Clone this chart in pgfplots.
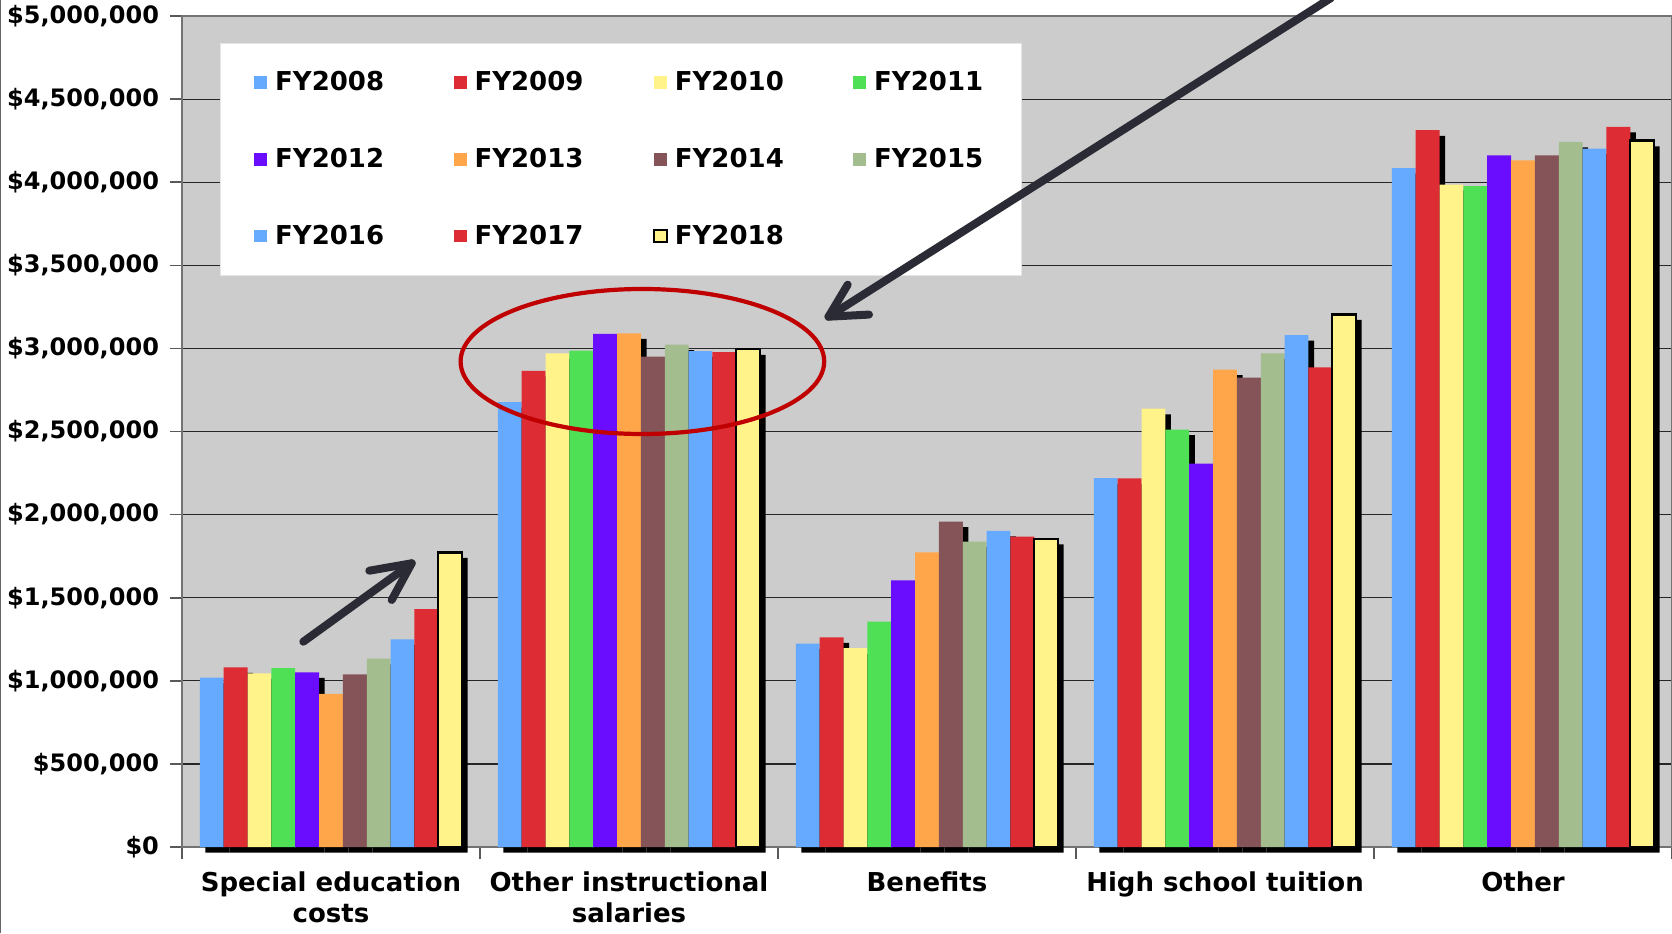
\documentclass[border=0pt]{standalone}
\usepackage{pgfplots}
\usepackage{pgfplotstable}
\pgfplotsset{compat=1.18}
\usepackage{fontspec}
\setmainfont{DejaVu Sans}
\definecolor{cBlue}{RGB}{102,170,255}
\definecolor{cRed}{RGB}{221,44,51}
\definecolor{cYel}{RGB}{255,243,138}
\definecolor{cGrn}{RGB}{80,224,85}
\definecolor{cVio}{RGB}{106,13,255}
\definecolor{cOra}{RGB}{255,166,74}
\definecolor{cBrn}{RGB}{132,84,88}
\definecolor{cSag}{RGB}{163,189,143}
\definecolor{arrowc}{RGB}{43,43,54}
\definecolor{ellc}{RGB}{192,0,0}
\pgfplotstableread{
cat y08 y09 y10 y11 y12 y13 y14 y15 y16 y17 y18
0 1019000 1081000 1045000 1077000 1051000 922000 1039000 1133000 1250000 1432000 1773000
1 2677000 2865000 2970000 2987000 3088000 3091000 2951000 3023000 2983000 2977000 2995000
2 1224000 1262000 1196000 1356000 1605000 1773000 1958000 1838000 1902000 1868000 1855000
3 2220000 2218000 2637000 2512000 2306000 2873000 2824000 2970000 3080000 2886000 3205000
4 4085000 4313000 3985000 3977000 4161000 4132000 4161000 4243000 4202000 4333000 4250000
}\data
\tikzset{barshadow/.style={preaction={fill=black, draw=none, transform canvas={xshift=2.8pt,yshift=-2.8pt}}}}
\begin{document}
\begin{tikzpicture}[font=\bfseries]
\begin{axis}[
  at={(0,0)}, anchor=south west,
  scale only axis, width=745pt, height=415.5pt,
  xmin=-0.5, xmax=4.5, ymin=0, ymax=5000000,
  ybar, bar width=0.08,
  clip=false,
  axis background/.style={fill=black!20},
  axis line style={draw=black!55, line width=0.9pt},
  ymajorgrids, grid style={black!85, line width=0.6pt},
  ytick={0,500000,1000000,1500000,2000000,2500000,3000000,3500000,4000000,4500000,5000000},
  yticklabels={{\$0},{\$500,000},{\$1,000,000},{\$1,500,000},{\$2,000,000},{\$2,500,000},{\$3,000,000},{\$3,500,000},{\$4,000,000},{\$4,500,000},{\$5,000,000}},
  scaled y ticks=false,
  xtick pos=bottom, ytick pos=left,
  tick align=outside, major tick length=6pt,
  tick style={black!65, line width=0.8pt},
  xtick={-0.5,0.5,1.5,2.5,3.5,4.5}, xticklabels={,,,,,},
  extra x ticks={0,1,2,3,4},
  extra x tick labels={{Special education\\costs},{Other instructional\\salaries},{Benefits},{High school tuition},{Other}},
  extra x tick style={major tick length=0pt},
  xticklabel style={align=center, font=\bfseries\fontsize{13}{15.5}\selectfont, yshift=-9pt},
  yticklabel style={font=\bfseries\fontsize{12}{14}\selectfont, xshift=-2pt},
  legend columns=4, legend cell align=left,
  legend style={at={(0.0255,0.9675)}, anchor=north west, fill=white, draw=black!10,
    inner xsep=17pt, inner ysep=12pt, row sep=23.2pt,
    font=\bfseries\fontsize{13}{15.5}\selectfont,
    /tikz/every even column/.append style={column sep=32.8pt}},
  sq/.style={legend image code/.code={\path[draw=none,fill=none] (0pt,0pt) -- (8.4pt,0pt);\path[##1, draw=none] (0pt,-3.2pt) rectangle (6.4pt,3.2pt);}},
  sqb/.style={legend image code/.code={\path[draw=none,fill=none] (0pt,0pt) -- (8.4pt,0pt);\path[##1] (0pt,-3.2pt) rectangle (6.4pt,3.2pt);}},
]
\addlegendimage{sq, fill=cBlue}\addlegendentry{FY2008}
\addlegendimage{sq, fill=cRed}\addlegendentry{FY2009}
\addlegendimage{sq, fill=cYel}\addlegendentry{FY2010}
\addlegendimage{sq, fill=cGrn}\addlegendentry{FY2011}
\addlegendimage{sq, fill=cVio}\addlegendentry{FY2012}
\addlegendimage{sq, fill=cOra}\addlegendentry{FY2013}
\addlegendimage{sq, fill=cBrn}\addlegendentry{FY2014}
\addlegendimage{sq, fill=cSag}\addlegendentry{FY2015}
\addlegendimage{sq, fill=cBlue}\addlegendentry{FY2016}
\addlegendimage{sq, fill=cRed}\addlegendentry{FY2017}
\addlegendimage{sqb, fill=cYel, draw=black, line width=1pt}\addlegendentry{FY2018}

\addplot[forget plot, barshadow, fill=cBlue, draw=none, bar shift=-0.40] table[x expr=\coordindex, y=y08] {\data};
\addplot[forget plot, barshadow, fill=cRed, draw=none, bar shift=-0.32] table[x expr=\coordindex, y=y09] {\data};
\addplot[forget plot, barshadow, fill=cYel, draw=none, bar shift=-0.24] table[x expr=\coordindex, y=y10] {\data};
\addplot[forget plot, barshadow, fill=cGrn, draw=none, bar shift=-0.16] table[x expr=\coordindex, y=y11] {\data};
\addplot[forget plot, barshadow, fill=cVio, draw=none, bar shift=-0.08] table[x expr=\coordindex, y=y12] {\data};
\addplot[forget plot, barshadow, fill=cOra, draw=none, bar shift=0] table[x expr=\coordindex, y=y13] {\data};
\addplot[forget plot, barshadow, fill=cBrn, draw=none, bar shift=0.08] table[x expr=\coordindex, y=y14] {\data};
\addplot[forget plot, barshadow, fill=cSag, draw=none, bar shift=0.16] table[x expr=\coordindex, y=y15] {\data};
\addplot[forget plot, barshadow, fill=cBlue, draw=none, bar shift=0.24] table[x expr=\coordindex, y=y16] {\data};
\addplot[forget plot, barshadow, fill=cRed, draw=none, bar shift=0.32] table[x expr=\coordindex, y=y17] {\data};
\addplot[forget plot, barshadow, fill=cYel, draw=black, line width=1.2pt, bar shift=0.40] table[x expr=\coordindex, y=y18] {\data};
\end{axis}
% annotations
\draw[ellc, line width=2.1pt] (230.2pt,242.75pt) ellipse [x radius=90.9pt, y radius=36.25pt];
\draw[arrowc, line width=4pt, line cap=round] (574.5pt,424.5pt) -- (323.25pt,265.15pt);
\draw[arrowc, line width=4pt, line cap=round, line join=round] (332.85pt,281.15pt) -- (323.25pt,265.15pt) -- (343.5pt,266.2pt);
\draw[arrowc, line width=4pt, line cap=round] (60.65pt,102.65pt) -- (114.85pt,141.85pt);
\draw[arrowc, line width=4pt, line cap=round, line join=round] (93.65pt,138.15pt) -- (114.85pt,141.85pt) -- (104.85pt,123.5pt);
\pgfresetboundingbox
\useasboundingbox (-91pt,-43pt) rectangle (745pt,423.5pt);
\draw[black!60, line width=0.6pt] (-90.7pt,-43pt) -- (-90.7pt,423.5pt);
\end{tikzpicture}
\end{document}
